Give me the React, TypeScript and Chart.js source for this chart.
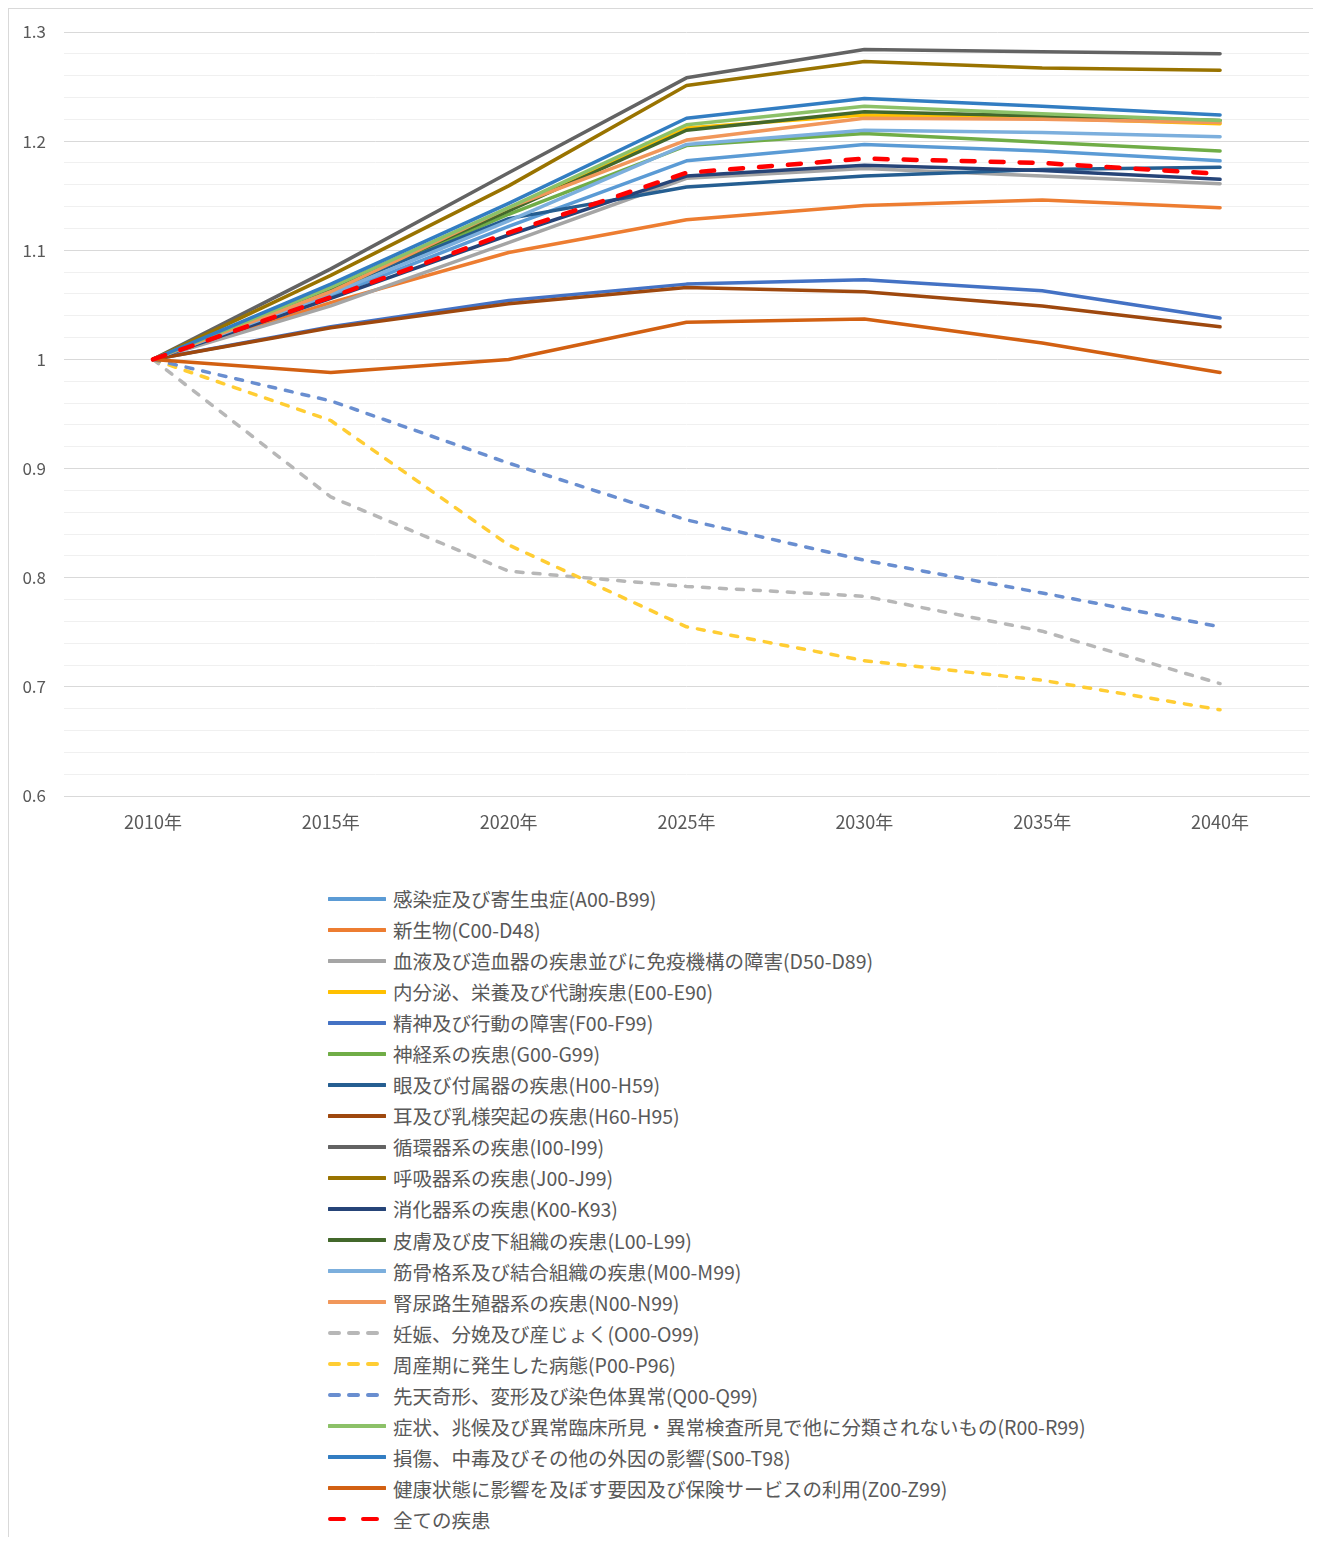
import React, { useEffect, useRef } from 'react';
import { Chart, registerables } from 'chart.js';

Chart.register(...registerables);

const FONT = '"Noto Sans CJK JP", "Noto Sans", sans-serif';
const TEXT_COLOR = '#595959';

const categories = ['2010年', '2015年', '2020年', '2025年', '2030年', '2035年', '2040年'];

const seriesNames = [
  '感染症及び寄生虫症(A00-B99)',
  '新生物(C00-D48)',
  '血液及び造血器の疾患並びに免疫機構の障害(D50-D89)',
  '内分泌、栄養及び代謝疾患(E00-E90)',
  '精神及び行動の障害(F00-F99)',
  '神経系の疾患(G00-G99)',
  '眼及び付属器の疾患(H00-H59)',
  '耳及び乳様突起の疾患(H60-H95)',
  '循環器系の疾患(I00-I99)',
  '呼吸器系の疾患(J00-J99)',
  '消化器系の疾患(K00-K93)',
  '皮膚及び皮下組織の疾患(L00-L99)',
  '筋骨格系及び結合組織の疾患(M00-M99)',
  '腎尿路生殖器系の疾患(N00-N99)',
  '妊娠、分娩及び産じょく(O00-O99)',
  '周産期に発生した病態(P00-P96)',
  '先天奇形、変形及び染色体異常(Q00-Q99)',
  '症状、兆候及び異常臨床所見・異常検査所見で他に分類されないもの(R00-R99)',
  '損傷、中毒及びその他の外因の影響(S00-T98)',
  '健康状態に影響を及ぼす要因及び保険サービスの利用(Z00-Z99)',
  '全ての疾患',
];

const valuesA00 = [1, 1.058, 1.122, 1.182, 1.197, 1.191, 1.182];
const valuesC00 = [1, 1.052, 1.098, 1.128, 1.141, 1.146, 1.139];
const valuesD50 = [1, 1.049, 1.107, 1.166, 1.175, 1.168, 1.161];
const valuesE00 = [1, 1.064, 1.137, 1.212, 1.224, 1.221, 1.216];
const valuesF00 = [1, 1.030, 1.054, 1.069, 1.073, 1.063, 1.038];
const valuesG00 = [1, 1.062, 1.133, 1.196, 1.207, 1.199, 1.191];
const valuesH00 = [1, 1.064, 1.129, 1.158, 1.168, 1.174, 1.176];
const valuesH60 = [1, 1.029, 1.051, 1.066, 1.062, 1.049, 1.030];
const valuesI00 = [1, 1.083, 1.171, 1.258, 1.284, 1.282, 1.280];
const valuesJ00 = [1, 1.077, 1.159, 1.251, 1.273, 1.267, 1.265];
const valuesK00 = [1, 1.056, 1.114, 1.168, 1.178, 1.173, 1.165];
const valuesL00 = [1, 1.064, 1.136, 1.210, 1.227, 1.223, 1.219];
const valuesM00 = [1, 1.060, 1.127, 1.197, 1.210, 1.208, 1.204];
const valuesN00 = [1, 1.062, 1.139, 1.201, 1.221, 1.220, 1.217];
const valuesO00 = [1, 0.874, 0.806, 0.792, 0.783, 0.751, 0.703];
const valuesP00 = [1, 0.944, 0.830, 0.755, 0.724, 0.706, 0.679];
const valuesQ00 = [1, 0.962, 0.905, 0.853, 0.816, 0.786, 0.755];
const valuesR00 = [1, 1.066, 1.139, 1.215, 1.232, 1.225, 1.219];
const valuesS00 = [1, 1.069, 1.143, 1.221, 1.239, 1.232, 1.224];
const valuesZ00 = [1, 0.988, 1.000, 1.034, 1.037, 1.015, 0.988];
const valuesAll = [1, 1.057, 1.116, 1.171, 1.184, 1.180, 1.170];

const seriesValues = [
  valuesA00, valuesC00, valuesD50, valuesE00, valuesF00, valuesG00, valuesH00,
  valuesH60, valuesI00, valuesJ00, valuesK00, valuesL00, valuesM00, valuesN00,
  valuesO00, valuesP00, valuesQ00, valuesR00, valuesS00, valuesZ00, valuesAll,
];

const seriesColors = [
  '#5B9BD5', '#ED7D31', '#A5A5A5', '#FFC000', '#4472C4', '#70AD47', '#255E91',
  '#9E480E', '#636363', '#997300', '#264478', '#43682B', '#7CAFDD', '#F1975A',
  '#B7B7B7', '#FFCD33', '#698ED0', '#8CC168', '#327DC2', '#D26012', '#FF0000',
];

// 'solid' | 'dash' | 'longdash'
const seriesStyles = [
  'solid', 'solid', 'solid', 'solid', 'solid', 'solid', 'solid',
  'solid', 'solid', 'solid', 'solid', 'solid', 'solid', 'solid',
  'dash', 'dash', 'dash', 'solid', 'solid', 'solid', 'longdash',
];

const yMin = 0.6;
const yMax = 1.3;
const yMinorStep = 0.02;

function LegendSwatch({ color, style }: { color: string; style: string }) {
  let dash: string | undefined;
  let x1 = 1;
  let x2 = 57;
  if (style === 'dash') {
    dash = '9 10';
    x1 = 2;
    x2 = 52;
  } else if (style === 'longdash') {
    dash = '14 19';
    x1 = 2;
    x2 = 52;
  }
  return (
    <svg width={58} height={10} style={{ display: 'block', flex: '0 0 auto' }}>
      <line
        x1={x1}
        y1={5}
        x2={x2}
        y2={5}
        stroke={color}
        strokeWidth={4}
        strokeLinecap="round"
        strokeDasharray={dash}
      />
    </svg>
  );
}

export default function App() {
  const canvasRef = useRef<HTMLCanvasElement | null>(null);

  useEffect(() => {
    const canvas = canvasRef.current;
    if (!canvas) return;
    const datasets = seriesNames.map((name, i) => {
      const style = seriesStyles[i];
      return {
        label: name,
        data: seriesValues[i],
        borderColor: seriesColors[i],
        backgroundColor: seriesColors[i],
        borderWidth: style === 'longdash' ? 4.5 : 3.5,
        borderDash: style === 'dash' ? [7, 10] : style === 'longdash' ? [13, 16] : [],
        borderCapStyle: 'round',
        borderJoinStyle: 'round',
        pointRadius: 0,
        pointHoverRadius: 0,
        tension: 0,
        fill: false,
        order: -i,
      };
    });

    const chart = new Chart(canvas, {
      type: 'line',
      data: { labels: categories, datasets: datasets as any },
      options: {
        animation: false,
        responsive: false,
        devicePixelRatio: 1,
        layout: { padding: { top: 23, right: 3, left: 0, bottom: 0 } },
        plugins: {
          legend: { display: false },
          tooltip: { enabled: false },
          title: { display: false },
        },
        scales: {
          x: {
            offset: true,
            grid: { display: false, drawTicks: false },
            border: { display: true, color: '#D9D9D9', width: 1 },
            ticks: {
              color: TEXT_COLOR,
              font: { family: FONT, size: 18 },
              padding: 15,
              maxRotation: 0,
              autoSkip: false,
            },
            afterFit: (scale: any) => {
              scale.height = 53;
            },
          },
          y: {
            min: yMin,
            max: yMax,
            border: { display: false },
            grid: {
              drawTicks: false,
              lineWidth: 1,
              color: (ctx: any) => {
                const v = ctx.tick ? ctx.tick.value : 0;
                const r = Math.round(v * 100);
                return r % 10 === 0 ? '#D9D9D9' : '#F0F0F0';
              },
            },
            ticks: {
              stepSize: yMinorStep,
              maxTicksLimit: 100,
              autoSkip: false,
              color: TEXT_COLOR,
              font: { family: FONT, size: 17 },
              padding: 18,
              callback: (value: any) => {
                const r = Math.round(Number(value) * 100);
                if (r % 10 !== 0) return '';
                return String(r / 100);
              },
            },
            afterFit: (scale: any) => {
              scale.width = 55;
              scale.paddingTop = 0;
              scale.paddingBottom = 0;
            },
          },
        },
      } as any,
    });
    return () => {
      chart.destroy();
    };
  }, []);

  return (
    <div
      style={{
        position: 'relative',
        width: 1304,
        height: 1528,
        borderTop: '1px solid #D9D9D9',
        borderLeft: '1px solid #D9D9D9',
        borderRight: '1px solid #D9D9D9',
        fontFamily: FONT,
        background: '#FFFFFF',
      }}
    >
      <canvas
        ref={canvasRef}
        width={1303}
        height={840}
        style={{ position: 'absolute', left: 0, top: 0, display: 'block' }}
      />
      <div style={{ position: 'absolute', left: 319, top: 874 }}>
        {seriesNames.map((name, i) => (
          <div
            key={name}
            style={{
              display: 'flex',
              alignItems: 'center',
              height: 31.05,
              whiteSpace: 'nowrap',
            }}
          >
            <LegendSwatch color={seriesColors[i]} style={seriesStyles[i]} />
            <span
              style={{
                marginLeft: 7,
                fontSize: 19.5,
                color: TEXT_COLOR,
                fontFamily: FONT,
                lineHeight: '31px',
              }}
            >
              {name}
            </span>
          </div>
        ))}
      </div>
    </div>
  );
}
